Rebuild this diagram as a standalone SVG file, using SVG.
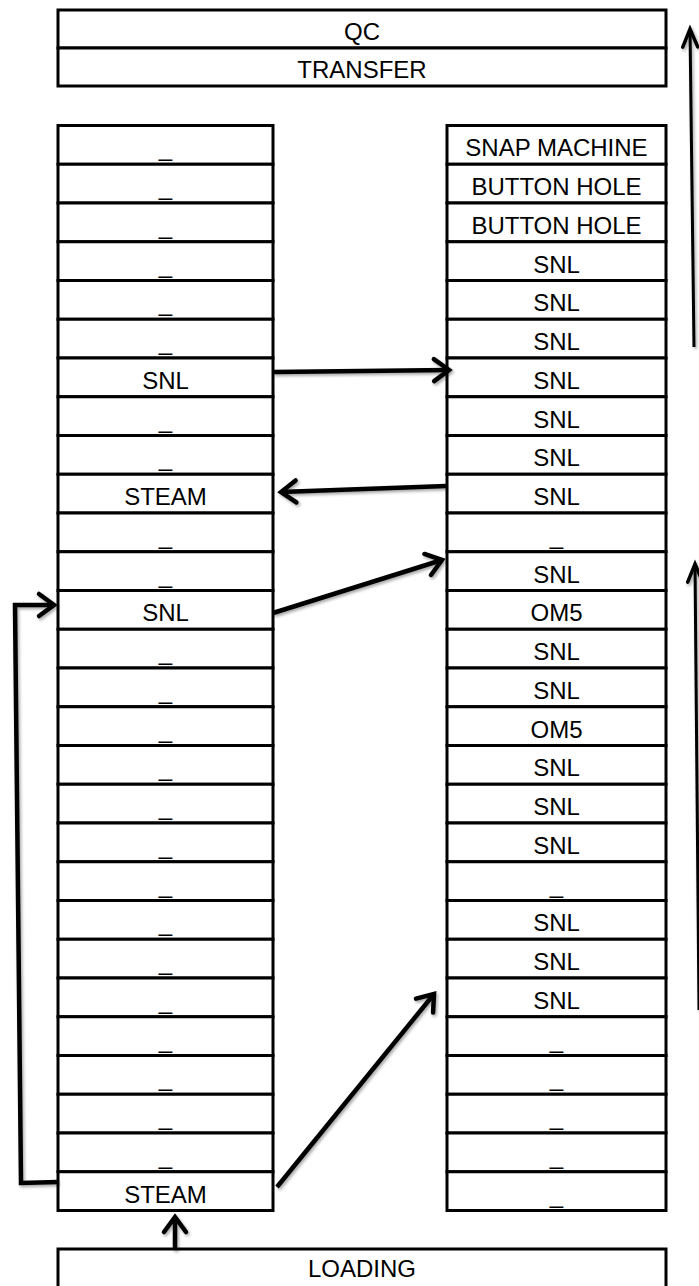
<svg xmlns="http://www.w3.org/2000/svg" width="699" height="1286" viewBox="0 0 699 1286">
<style>
.box{fill:#fff;stroke:#000;stroke-width:3}
.t{font-family:"Liberation Sans",Arial,sans-serif;font-size:24px;fill:#000;text-anchor:middle}
.c{fill:none;stroke:#000;stroke-width:4.5;stroke-linejoin:miter;stroke-linecap:butt}
.thin{stroke-width:3}
</style>
<defs>
<filter id="sh" x="-20%" y="-20%" width="140%" height="140%">
<feDropShadow dx="1.5" dy="2" stdDeviation="1.5" flood-color="#000" flood-opacity="0.35"/>
</filter>
<marker id="ah" markerUnits="userSpaceOnUse" markerWidth="40" markerHeight="40" viewBox="-25 -20 40 40" refX="0" refY="0" orient="auto">
<path d="M-15,-11 L0,0 L-15,11" fill="none" stroke="#000" stroke-width="4.5" stroke-linecap="round" stroke-linejoin="miter"/>
</marker>
<marker id="ah2" markerUnits="userSpaceOnUse" markerWidth="40" markerHeight="40" viewBox="-25 -20 40 40" refX="0" refY="0" orient="auto">
<path d="M-18,-7.5 L0,0 L-18,7.5" fill="none" stroke="#000" stroke-width="3.5" stroke-linecap="round" stroke-linejoin="miter"/>
</marker>
</defs>
<rect width="699" height="1286" fill="#fff"/>

<g id="qc"><rect class="box" x="58" y="10" width="608" height="38"/><text class="t" x="362" y="40">QC</text></g>
<g id="transfer"><rect class="box" x="58" y="48" width="608" height="38"/><text class="t" x="362" y="78">TRANSFER</text></g>
<g id="loading"><path class="box" d="M58,1290 V1249 H666 V1290"/><text class="t" x="362" y="1277">LOADING</text></g>

<g id="left-column">
<g id="L1"><rect class="box" x="58" y="125.5" width="215" height="38.75"/><text class="t" x="165.5" y="156.25">_</text></g>
<g id="L2"><rect class="box" x="58" y="164.25" width="215" height="38.75"/><text class="t" x="165.5" y="195">_</text></g>
<g id="L3"><rect class="box" x="58" y="203" width="215" height="38.75"/><text class="t" x="165.5" y="233.75">_</text></g>
<g id="L4"><rect class="box" x="58" y="241.75" width="215" height="38.75"/><text class="t" x="165.5" y="272.5">_</text></g>
<g id="L5"><rect class="box" x="58" y="280.5" width="215" height="38.75"/><text class="t" x="165.5" y="311.25">_</text></g>
<g id="L6"><rect class="box" x="58" y="319.25" width="215" height="38.75"/><text class="t" x="165.5" y="350">_</text></g>
<g id="L7"><rect class="box" x="58" y="358" width="215" height="38.75"/><text class="t" x="165.5" y="388.75">SNL</text></g>
<g id="L8"><rect class="box" x="58" y="396.75" width="215" height="38.75"/><text class="t" x="165.5" y="427.5">_</text></g>
<g id="L9"><rect class="box" x="58" y="435.5" width="215" height="38.75"/><text class="t" x="165.5" y="466.25">_</text></g>
<g id="L10"><rect class="box" x="58" y="474.25" width="215" height="38.75"/><text class="t" x="165.5" y="505">STEAM</text></g>
<g id="L11"><rect class="box" x="58" y="513" width="215" height="38.75"/><text class="t" x="165.5" y="543.75">_</text></g>
<g id="L12"><rect class="box" x="58" y="551.75" width="215" height="38.75"/><text class="t" x="165.5" y="582.5">_</text></g>
<g id="L13"><rect class="box" x="58" y="590.5" width="215" height="38.75"/><text class="t" x="165.5" y="621.25">SNL</text></g>
<g id="L14"><rect class="box" x="58" y="629.25" width="215" height="38.75"/><text class="t" x="165.5" y="660">_</text></g>
<g id="L15"><rect class="box" x="58" y="668" width="215" height="38.75"/><text class="t" x="165.5" y="698.75">_</text></g>
<g id="L16"><rect class="box" x="58" y="706.75" width="215" height="38.75"/><text class="t" x="165.5" y="737.5">_</text></g>
<g id="L17"><rect class="box" x="58" y="745.5" width="215" height="38.75"/><text class="t" x="165.5" y="776.25">_</text></g>
<g id="L18"><rect class="box" x="58" y="784.25" width="215" height="38.75"/><text class="t" x="165.5" y="815">_</text></g>
<g id="L19"><rect class="box" x="58" y="823" width="215" height="38.75"/><text class="t" x="165.5" y="853.75">_</text></g>
<g id="L20"><rect class="box" x="58" y="861.75" width="215" height="38.75"/><text class="t" x="165.5" y="892.5">_</text></g>
<g id="L21"><rect class="box" x="58" y="900.5" width="215" height="38.75"/><text class="t" x="165.5" y="931.25">_</text></g>
<g id="L22"><rect class="box" x="58" y="939.25" width="215" height="38.75"/><text class="t" x="165.5" y="970">_</text></g>
<g id="L23"><rect class="box" x="58" y="978" width="215" height="38.75"/><text class="t" x="165.5" y="1008.75">_</text></g>
<g id="L24"><rect class="box" x="58" y="1016.75" width="215" height="38.75"/><text class="t" x="165.5" y="1047.5">_</text></g>
<g id="L25"><rect class="box" x="58" y="1055.5" width="215" height="38.75"/><text class="t" x="165.5" y="1086.25">_</text></g>
<g id="L26"><rect class="box" x="58" y="1094.25" width="215" height="38.75"/><text class="t" x="165.5" y="1125">_</text></g>
<g id="L27"><rect class="box" x="58" y="1133" width="215" height="38.75"/><text class="t" x="165.5" y="1163.75">_</text></g>
<g id="L28"><rect class="box" x="58" y="1171.75" width="215" height="38.75"/><text class="t" x="165.5" y="1202.5">STEAM</text></g>
</g>

<g id="right-column">
<g id="R1"><rect class="box" x="447" y="125.5" width="219" height="38.75"/><text class="t" x="556.5" y="156.25">SNAP MACHINE</text></g>
<g id="R2"><rect class="box" x="447" y="164.25" width="219" height="38.75"/><text class="t" x="556.5" y="195">BUTTON HOLE</text></g>
<g id="R3"><rect class="box" x="447" y="203" width="219" height="38.75"/><text class="t" x="556.5" y="233.75">BUTTON HOLE</text></g>
<g id="R4"><rect class="box" x="447" y="241.75" width="219" height="38.75"/><text class="t" x="556.5" y="272.5">SNL</text></g>
<g id="R5"><rect class="box" x="447" y="280.5" width="219" height="38.75"/><text class="t" x="556.5" y="311.25">SNL</text></g>
<g id="R6"><rect class="box" x="447" y="319.25" width="219" height="38.75"/><text class="t" x="556.5" y="350">SNL</text></g>
<g id="R7"><rect class="box" x="447" y="358" width="219" height="38.75"/><text class="t" x="556.5" y="388.75">SNL</text></g>
<g id="R8"><rect class="box" x="447" y="396.75" width="219" height="38.75"/><text class="t" x="556.5" y="427.5">SNL</text></g>
<g id="R9"><rect class="box" x="447" y="435.5" width="219" height="38.75"/><text class="t" x="556.5" y="466.25">SNL</text></g>
<g id="R10"><rect class="box" x="447" y="474.25" width="219" height="38.75"/><text class="t" x="556.5" y="505">SNL</text></g>
<g id="R11"><rect class="box" x="447" y="513" width="219" height="38.75"/><text class="t" x="556.5" y="543.75">_</text></g>
<g id="R12"><rect class="box" x="447" y="551.75" width="219" height="38.75"/><text class="t" x="556.5" y="582.5">SNL</text></g>
<g id="R13"><rect class="box" x="447" y="590.5" width="219" height="38.75"/><text class="t" x="556.5" y="621.25">OM5</text></g>
<g id="R14"><rect class="box" x="447" y="629.25" width="219" height="38.75"/><text class="t" x="556.5" y="660">SNL</text></g>
<g id="R15"><rect class="box" x="447" y="668" width="219" height="38.75"/><text class="t" x="556.5" y="698.75">SNL</text></g>
<g id="R16"><rect class="box" x="447" y="706.75" width="219" height="38.75"/><text class="t" x="556.5" y="737.5">OM5</text></g>
<g id="R17"><rect class="box" x="447" y="745.5" width="219" height="38.75"/><text class="t" x="556.5" y="776.25">SNL</text></g>
<g id="R18"><rect class="box" x="447" y="784.25" width="219" height="38.75"/><text class="t" x="556.5" y="815">SNL</text></g>
<g id="R19"><rect class="box" x="447" y="823" width="219" height="38.75"/><text class="t" x="556.5" y="853.75">SNL</text></g>
<g id="R20"><rect class="box" x="447" y="861.75" width="219" height="38.75"/><text class="t" x="556.5" y="892.5">_</text></g>
<g id="R21"><rect class="box" x="447" y="900.5" width="219" height="38.75"/><text class="t" x="556.5" y="931.25">SNL</text></g>
<g id="R22"><rect class="box" x="447" y="939.25" width="219" height="38.75"/><text class="t" x="556.5" y="970">SNL</text></g>
<g id="R23"><rect class="box" x="447" y="978" width="219" height="38.75"/><text class="t" x="556.5" y="1008.75">SNL</text></g>
<g id="R24"><rect class="box" x="447" y="1016.75" width="219" height="38.75"/><text class="t" x="556.5" y="1047.5">_</text></g>
<g id="R25"><rect class="box" x="447" y="1055.5" width="219" height="38.75"/><text class="t" x="556.5" y="1086.25">_</text></g>
<g id="R26"><rect class="box" x="447" y="1094.25" width="219" height="38.75"/><text class="t" x="556.5" y="1125">_</text></g>
<g id="R27"><rect class="box" x="447" y="1133" width="219" height="38.75"/><text class="t" x="556.5" y="1163.75">_</text></g>
<g id="R28"><rect class="box" x="447" y="1171.75" width="219" height="38.75"/><text class="t" x="556.5" y="1202.5">_</text></g>
</g>

<g id="connectors" filter="url(#sh)">
<path class="c" d="M273,372 L449,370" marker-end="url(#ah)"/>
<path class="c" d="M446,486 L281,492" marker-end="url(#ah)"/>
<path class="c" d="M273,613 L442,560" marker-end="url(#ah)"/>
<path class="c" d="M277,1187 L434,994" marker-end="url(#ah)"/>
<path class="c" d="M58,1182 L21,1183 L15,605 L54,605" marker-end="url(#ah)"/>
<path class="c" d="M175,1250 L175,1217" marker-end="url(#ah)"/>
<path class="c thin" d="M694,347 L690,29" marker-end="url(#ah2)"/>
<path class="c thin" d="M699,1010 L695,564" marker-end="url(#ah2)"/>
</g>
</svg>
